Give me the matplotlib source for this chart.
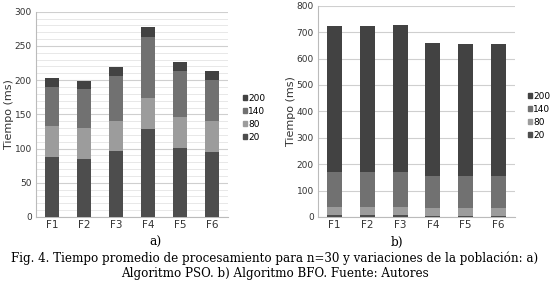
import matplotlib
matplotlib.use('Agg')
import matplotlib.pyplot as plt
import numpy as np
from matplotlib.patches import Patch

funciones = ['F1', 'F2', 'F3', 'F4', 'F5', 'F6']
poblacion = ['20', '80', '140', '200']

# PSO (left) segment values per population size
pso_20 = [88, 85, 97, 128, 100.6, 94.3]
pso_80 = [45, 45, 44, 45.6, 45.4, 45.4]
pso_140 = [57.5, 57, 65.5, 89.4, 66.8, 61]
pso_200 = [12, 12, 12.5, 14.6, 13, 13.3]

# BFO (right)
bfo_20 = [6, 6, 6, 5, 5, 5]
bfo_80 = [33, 33, 33, 30, 30, 30]
bfo_140 = [133, 132, 133, 121, 121, 120]
bfo_200 = [553, 552, 555, 501, 499, 499]

colores = ['#4d4d4d', '#9c9c9c', '#717171', '#424242']

fig = plt.figure(figsize=(5.5, 2.83), dpi=100)
W, H = 550.0, 283.0


def panel(rect, series, ymax, major, minor, width, legpos, ylab_x):
    ax = fig.add_axes([rect[0] / W, 1 - rect[3] / H, (rect[2] - rect[0]) / W, (rect[3] - rect[1]) / H])
    x = np.arange(len(funciones))
    bottom = np.zeros(len(funciones))
    for vals, c in zip(series, colores):
        ax.bar(x, vals, width, bottom=bottom, color=c, zorder=3)
        bottom = bottom + np.array(vals)
    ax.set_xlim(-0.5, len(funciones) - 0.5)
    ax.set_ylim(0, ymax)
    ax.set_yticks(np.arange(0, ymax + 1, major))
    if minor:
        ax.set_yticks(np.arange(0, ymax + 1, minor), minor=True)
        ax.grid(axis='y', which='minor', color='#e4e4e4', lw=0.6, zorder=0)
    ax.grid(axis='y', which='major', color='#cfcfcf', lw=0.8, zorder=0)
    ax.set_xticks(x)
    ax.set_xticklabels(funciones, fontsize=7.5, color='#333333')
    ax.tick_params(axis='y', labelsize=6.5, colors='#333333', length=0, pad=3)
    ax.tick_params(axis='y', which='minor', length=0)
    ax.tick_params(axis='x', length=0, pad=2)
    for s in ['top', 'right']:
        ax.spines[s].set_visible(False)
    ax.spines['left'].set_color('#bbbbbb')
    ax.spines['bottom'].set_color('#bbbbbb')
    fig.text(ylab_x / W, 1 - (rect[1] + rect[3]) / 2 / H, 'Tiempo (ms)', rotation=90,
             ha='center', va='center', fontsize=8, color='#333333')
    handles = [Patch(color=c, label=p) for c, p in zip(colores, poblacion)][::-1]
    fig.legend(handles=handles, loc='center left', bbox_to_anchor=(legpos[0] / W, 1 - legpos[1] / H),
               frameon=False, fontsize=6.5, handlelength=0.45, handleheight=0.45,
               handletextpad=0.15, labelspacing=0.45, borderpad=0, borderaxespad=0)
    return ax


panel((36, 11.7, 228, 217), [pso_20, pso_80, pso_140, pso_200], 300, 50, 10, 0.42, (243, 118), 9)
panel((318, 5.7, 515, 217), [bfo_20, bfo_80, bfo_140, bfo_200], 800, 100, None, 0.46, (528, 116), 291)

serif = 'DejaVu Serif'
fig.text(155 / W, 1 - 242 / H, 'a)', ha='center', va='center', fontsize=8.7, family=serif)
fig.text(397 / W, 1 - 242 / H, 'b)', ha='center', va='center', fontsize=8.7, family=serif)
fig.text(0.5, 1 - 258 / H, 'Fig. 4. Tiempo promedio de procesamiento para n=30 y variaciones de la población: a)',
         ha='center', va='center', fontsize=8.6, family=serif)
fig.text(0.5, 1 - 274 / H, 'Algoritmo PSO. b) Algoritmo BFO. Fuente: Autores',
         ha='center', va='center', fontsize=8.6, family=serif)

fig.savefig('out.png', dpi=100)
